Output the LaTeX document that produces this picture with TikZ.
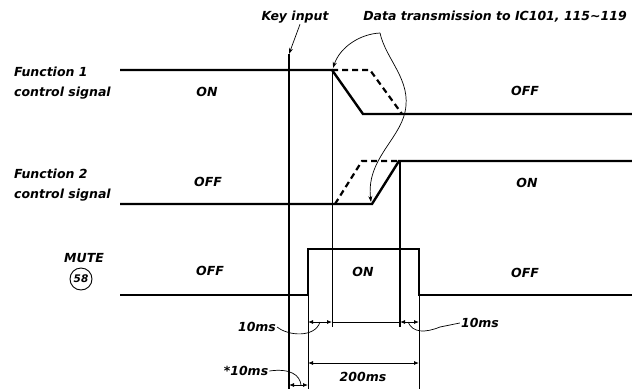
\documentclass[tikz,border=0pt]{standalone}
\usepackage{fontspec}
\setmainfont{DejaVu Sans}
\usepackage{tikz}
\usetikzlibrary{arrows.meta}

\newcommand{\lblfont}{\fontsize{12.5}{20}\selectfont\bfseries\itshape}
\newcommand{\pinfont}{\fontsize{10.5}{12}\selectfont\bfseries\itshape}

\begin{document}
\begin{tikzpicture}[x=1pt, y=-1pt, every node/.style={font=\lblfont, inner sep=1pt},
    sig/.style={line width=2.4pt},
    sigdash/.style={line width=2.2pt, dash pattern=on 6pt off 4pt},
    guide/.style={line width=0.8pt},
    dim/.style={line width=0.8pt, {Latex[length=5pt,width=4pt]}-{Latex[length=5pt,width=4pt]}},
    lead/.style={line width=0.7pt}]
    \useasboundingbox (0,0) rectangle (632,389);
    % signal names
    \node[anchor=west, align=left] (fone) at (13,83) {Function 1\\control signal};
    \node[anchor=west, align=left] (ftwo) at (13,185) {Function 2\\control signal};
    \node (mute) at (84,258) {MUTE};
    \node[draw, circle, line width=0.9pt, minimum size=22pt, inner sep=0pt, font=\pinfont] (pin) at (81,279) {58};
    % levels
    \draw[sig] (120,70) -- (332,70) -- (363,114) -- (632,114);
    \draw[sigdash] (332,70) -- (370,70) -- (402,114);
    \draw[sig] (120,204) -- (372,204) -- (399,161) -- (632,161);
    \draw[sigdash] (335,204) -- (362,161) -- (399,161);
    \draw[sig] (120,295) -- (308,295) -- (308,249) -- (419,249) -- (419,295) -- (632,295);
    \foreach \x/\y/\t/\n in {207/92/ON/oneon, 525/91/OFF/oneoff, 208/182/OFF/twooff, 527/183/ON/twoon,
        210/271/OFF/muteoffa, 363/272/ON/muteon, 525/273/OFF/muteoffb}
      \node (\n) at (\x,\y) {\t};
    % key input
    \node (key) at (295,17) {Key input};
    \coordinate (keytop) at (289,54);
    \draw[line width=2pt] (keytop) -- (289,389);
    \draw[lead, -{Stealth[length=6pt,width=4pt]}] ([xshift=5pt]key.south) -- (keytop);
    % data transmission
    \node (data) at (495,17) {Data transmission to IC101, 115\textasciitilde 119};
    \coordinate (fork) at (380,33);
    \coordinate (forka) at (333,68);
    \coordinate (forkb) at (371,202);
    \draw[lead, -{Stealth[length=6pt,width=4pt]}] (fork) .. controls (360,34) and (340,47) .. (forka);
    \draw[lead, -{Stealth[length=6pt,width=4pt]}] (fork) .. controls (386,60) and (412,80) .. (405,112)
        .. controls (399,140) and (366,160) .. (forkb);
    % timing guides
    \draw[guide] (332,70) -- (332,327);
    \draw[line width=1.2pt] (400,161) -- (400,327);
    \draw[guide] (308,295) -- (308,389);
    \draw[guide] (419,295) -- (419,389);
    % dimensions
    \draw[dim] (308,322) -- (332,322);
    \draw[guide] (332,322) -- (400,322);
    \draw[dim] (400,322) -- (419,322);
    \draw[dim] (308,363) -- (419,363);
    \draw[dim] (289,385) -- (308,385);
    \node (tone) at (257,327) {10ms};
    \node (ttwo) at (480,323) {10ms};
    \node (tthr) at (246,371) {*10ms};
    \node (tfull) at (363,377) {200ms};
    \coordinate (tonept) at (320,322);
    \coordinate (ttwopt) at (408,322);
    \coordinate (tthrpt) at (301,385);
    \draw[lead] (tone.east) .. controls (288,336) and (315,338) .. (tonept);
    \draw[lead] (ttwopt) .. controls (413,333) and (425,333) .. (440,327) -- (ttwo.west);
    \draw[lead] (tthr.east) .. controls (290,368) and (300,375) .. (tthrpt);
\end{tikzpicture}
\end{document}
